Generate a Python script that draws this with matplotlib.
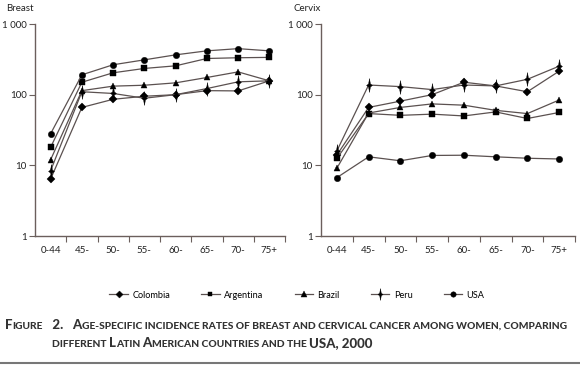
import matplotlib
matplotlib.use("Agg")
import matplotlib.pyplot as plt
from matplotlib.path import Path
import numpy as np

ages = ["0-44", "45-", "50-", "55-", "60-", "65-", "70-", "75+"]
countries = ["Colombia", "Argentina", "Brazil", "Peru", "USA"]

breast_colombia = [6.4, 66, 86, 95, 100, 114, 113, 157]
breast_argentina = [18, 150, 204, 235, 256, 325, 333, 337]
breast_brazil = [12, 114, 132, 136, 147, 175, 210, 157]
breast_peru = [8.4, 110, 104, 89, 100, 122, 152, 157]
breast_usa = [28, 191, 265, 311, 366, 417, 448, 417]

cervix_colombia = [14, 66, 81, 100, 150, 133, 110, 215]
cervix_argentina = [12.5, 54, 51, 53, 50, 57, 46, 56]
cervix_brazil = [9.1, 55, 66, 74, 71, 60, 54, 84]
cervix_peru = [16, 137, 130, 118, 137, 133, 165, 253]
cervix_usa = [6.7, 13.2, 11.6, 13.8, 13.9, 13.2, 12.6, 12.3]

yticks = [1, 10, 100, 1000]
ytick_labels = ["1", "10", "100", "1 000"]

# thin vertical star marker for Peru
peru_marker = Path([(0, 1.0), (0.13, 0.22), (0.42, 0), (0.13, -0.22), (0, -1.0),
                    (-0.13, -0.22), (-0.42, 0), (-0.13, 0.22), (0, 1.0)],
                   [Path.MOVETO] + [Path.LINETO] * 7 + [Path.CLOSEPOLY])

markers = {"Colombia": ("D", 4.2), "Argentina": ("s", 4.2), "Brazil": ("^", 4.5),
           "Peru": (peru_marker, 10), "USA": ("o", 4.6)}

FONT = "Lato"
W, H = 580, 368
fig = plt.figure(figsize=(W / 100, H / 100), dpi=100)
fig.patch.set_facecolor("white")

line_col = "#5b5150"
axis_col = "#6b5f5c"

def make_panel(rect, data, title, tx):
    ax = fig.add_axes(rect)
    x = np.arange(len(ages))
    for name, vals in zip(countries, data):
        m, ms = markers[name]
        ax.plot(x, vals, color=line_col, lw=0.9, marker=m, ms=ms,
                mfc="black", mec="black", mew=0.3, label=name, clip_on=False)
    ax.set_yscale("log")
    ax.set_ylim(1, 1000)
    ax.set_xlim(-0.5, 7.5)
    ax.set_yticks(yticks)
    ax.set_yticklabels(ytick_labels, fontfamily=FONT, fontsize=7, color="#222")
    ax.yaxis.set_minor_locator(matplotlib.ticker.NullLocator())
    ax.set_xticks(x)
    ax.set_xticklabels(ages, fontfamily=FONT, fontsize=7, color="#222")
    ax.tick_params(axis="x", which="major", length=0, pad=7)
    ax.set_xticks(np.arange(0.5, 8, 1), minor=True)
    ax.tick_params(axis="x", which="minor", length=4, width=0.8, color=axis_col)
    ax.tick_params(axis="y", which="major", length=4, width=0.8, color=axis_col, pad=2)
    for s in ["top", "right"]:
        ax.spines[s].set_visible(False)
    for s in ["left", "bottom"]:
        ax.spines[s].set_color(axis_col)
        ax.spines[s].set_linewidth(1.0)
    fig.text(tx / W, 1 - 8.5 / H, title, fontfamily=FONT, fontsize=7, color="#222",
             va="center", ha="left")
    return ax

ax1 = make_panel([35 / W, 1 - 236 / H, 250 / W, 212 / H],
                 [breast_colombia, breast_argentina, breast_brazil, breast_peru, breast_usa],
                 "Breast", 6)
ax2 = make_panel([321 / W, 1 - 236 / H, 254 / W, 212 / H],
                 [cervix_colombia, cervix_argentina, cervix_brazil, cervix_peru, cervix_usa],
                 "Cervix", 294)

handles, labels = ax1.get_legend_handles_labels()
fig.legend(handles, labels, loc="center", bbox_to_anchor=(297 / W, 1 - 295 / H),
           ncol=5, frameon=False, prop={"family": FONT, "size": 6.6},
           handlelength=2.0, columnspacing=3.4, handletextpad=0.5, markerscale=0.85)

# caption in small caps
big, small = 9.5, 7.4
line1 = [("F", big), ("IGURE", small), ("   2.   ", big), ("A", big),
         ("GE-SPECIFIC INCIDENCE RATES OF BREAST AND CERVICAL CANCER AMONG WOMEN, COMPARING", small)]
line2 = [("DIFFERENT ", small), ("L", big), ("ATIN ", small), ("A", big),
         ("MERICAN COUNTRIES AND THE ", small), ("USA, 2000", big)]

renderer = fig.canvas.get_renderer()
def draw_runs(runs, x0, y0):
    x = x0
    for s, size in runs:
        t = fig.text(x / W, 1 - y0 / H, s, fontfamily=FONT, fontweight="black",
                     fontsize=size, color="#333", ha="left", va="baseline")
        bb = t.get_window_extent(renderer=renderer)
        x += bb.width
    return x

draw_runs(line1, 5, 329)
draw_runs(line2, 52, 347)

fig.add_artist(plt.Line2D([0, 1], [1 - 363 / H, 1 - 363 / H], color="#777", lw=1.5))

fig.savefig("out.png", dpi=100, facecolor="white")
